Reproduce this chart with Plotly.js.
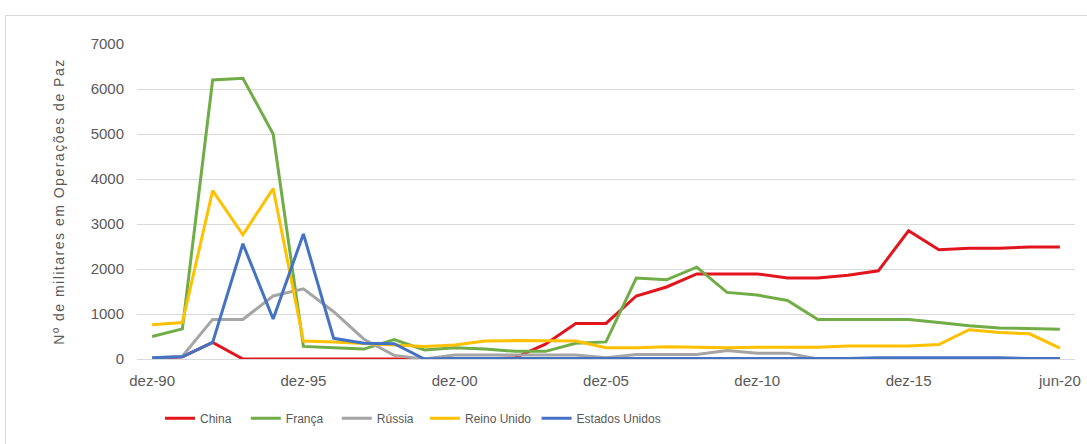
<!DOCTYPE html>
<html>
<head>
<meta charset="utf-8">
<script src="https://cdn.plot.ly/plotly-3.0.1.min.js"></script>
<style>
  html, body { margin: 0; padding: 0; background: #ffffff; }
  #wrap { position: relative; width: 1087px; height: 444px; overflow: hidden; }
  #frame { position: absolute; left: 5px; top: 15px; width: 1100px; height: 440px; border: 1px solid #d9d9d9; box-sizing: border-box; pointer-events: none; }
  #chart { position: absolute; left: 0; top: 0; width: 1087px; height: 444px; }
  .ytitle { letter-spacing: 1.5px; }
</style>
</head>
<body>
<div id="wrap">
  <div id="chart"></div>
  <div id="frame"></div>
</div>
<script>
const categories = ["dez-90","dez-91","dez-92","dez-93","dez-94","dez-95","dez-96","dez-97","dez-98","dez-99",
  "dez-00","dez-01","dez-02","dez-03","dez-04","dez-05","dez-06","dez-07","dez-08","dez-09",
  "dez-10","dez-11","dez-12","dez-13","dez-14","dez-15","dez-16","dez-17","dez-18","dez-19","jun-20"];

const china = [0, 50, 370, 0, 0, 0, 0, 0, 0, 0, 0, 0, 30, 330, 790, 790, 1400, 1600, 1890, 1890, 1890, 1800, 1800, 1860, 1960, 2850, 2430, 2460, 2460, 2490, 2490];
const franca = [500, 670, 6200, 6240, 5000, 280, 250, 220, 430, 200, 250, 220, 170, 170, 350, 380, 1800, 1760, 2040, 1480, 1420, 1300, 880, 880, 880, 880, 810, 740, 690, 680, 660];
const russia = [20, 60, 880, 880, 1400, 1560, 1050, 440, 80, 0, 90, 90, 90, 90, 90, 30, 100, 100, 100, 190, 130, 130, 0, 0, 0, 0, 0, 0, 0, 0, 0];
const reinoUnido = [760, 810, 3740, 2760, 3790, 400, 380, 350, 320, 280, 310, 400, 410, 410, 400, 250, 250, 270, 260, 250, 260, 260, 260, 290, 290, 290, 320, 650, 590, 560, 240];
const estadosUnidos = [30, 50, 370, 2560, 890, 2780, 460, 350, 340, 0, 10, 10, 10, 10, 10, 0, 10, 10, 10, 10, 10, 10, 10, 10, 30, 30, 30, 30, 30, 10, 10];

const seriesNames = ["China", "França", "Rússia", "Reino Unido", "Estados Unidos"];
const tickLabels = ["dez-90","dez-95","dez-00","dez-05","dez-10","dez-15","jun-20"];
const yTicks = [0, 1000, 2000, 3000, 4000, 5000, 6000, 7000];

const colors = ["#E2141C", "#70AD47", "#A5A5A5", "#FFC000", "#4472C4"];
const allSeries = [china, franca, russia, reinoUnido, estadosUnidos];
const legendIds = ["legend", "legend2", "legend3", "legend4", "legend5"];
const legendX = [0.0245, 0.116, 0.213, 0.307, 0.426];

const traces = allSeries.map((vals, i) => ({
  type: "scatter",
  mode: "lines",
  x: categories,
  y: vals,
  name: seriesNames[i],
  legend: legendIds[i],
  line: { color: colors[i], width: 3 }
}));

const legendFont = { family: "Liberation Sans Narrow, Liberation Sans, Arial, sans-serif", size: 12, color: "#595959" };

const layout = {
  width: 1087,
  height: 444,
  margin: { l: 137, r: 12, t: 44, b: 84 },
  paper_bgcolor: "rgba(0,0,0,0)",
  plot_bgcolor: "#ffffff",
  showlegend: true,
  xaxis: {
    type: "category",
    range: [-0.5, 30.5],
    tickmode: "array",
    tickvals: tickLabels,
    ticktext: tickLabels,
    showgrid: false,
    showline: true,
    linecolor: "#d9d9d9",
    linewidth: 1,
    ticks: "",
    ticklabelstandoff: 8,
    tickfont: { family: "Liberation Sans, Arial, sans-serif", size: 15, color: "#595959" },
    zeroline: false,
    fixedrange: true
  },
  yaxis: {
    range: [0, 7000],
    tickmode: "array",
    tickvals: yTicks,
    ticktext: yTicks.map(String),
    showgrid: true,
    gridcolor: "#d9d9d9",
    gridwidth: 1,
    zeroline: false,
    showline: false,
    ticks: "",
    ticklabelstandoff: 12,
    tickfont: { family: "Liberation Sans, Arial, sans-serif", size: 15, color: "#595959" },
    title: {
      text: "Nº de militares em Operações de Paz",
      font: { family: "Liberation Sans, Arial, sans-serif", size: 14, color: "#595959" },
      standoff: 22
    },
    automargin: false,
    fixedrange: true
  }
};

legendIds.forEach((id, i) => {
  layout[id] = {
    orientation: "h",
    x: legendX[i], xanchor: "left",
    y: -0.184, yanchor: "middle",
    font: legendFont,
    itemwidth: 30,
    bgcolor: "rgba(0,0,0,0)"
  };
});

Plotly.newPlot("chart", traces, layout, { displayModeBar: false, staticPlot: true });
</script>
</body>
</html>
